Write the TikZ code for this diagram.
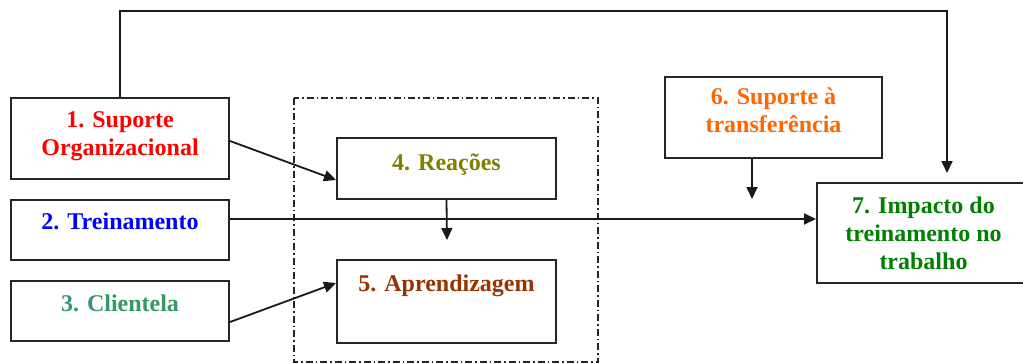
\documentclass[tikz,border=0pt]{standalone}
\usepackage{fontspec}
\setmainfont{LiberationSerif}[Extension=.ttf, UprightFont=*-Regular, BoldFont=*-Bold]
\usetikzlibrary{arrows.meta}
\definecolor{cRed}{HTML}{FF0000}
\definecolor{cBlue}{HTML}{0000FF}
\definecolor{cSea}{HTML}{339966}
\definecolor{cOlive}{HTML}{808000}
\definecolor{cBrown}{HTML}{993300}
\definecolor{cOrange}{HTML}{FF6600}
\definecolor{cGreen}{HTML}{008000}
\begin{document}
\begin{tikzpicture}[x=1pt,y=-1pt,
  box/.style={draw=black!85, line width=2pt, rectangle, inner sep=0pt, fill=white},
  lbl/.style={font=\bfseries\fontsize{24}{28}\selectfont, align=center, inner sep=0pt, anchor=north},
  conn/.style={line width=1.8pt, draw=black!90},
  arr/.style={conn, -{Triangle[length=12pt,width=11pt]}},
  frame/.style={line width=1.4pt, draw=black!85, dash pattern=on 7pt off 3pt on 1.5pt off 3pt}]
\clip (0,0) rectangle (1023,364);
\fill[white] (0,0) rectangle (1023,364);

% dashed grouping frame around reactions and learning
\draw[frame] (294,98) rectangle (598,362);

% boxes
\node[box, minimum width=218pt, minimum height=81pt] (b1) at (120,138.5) {};
\node[box, minimum width=218pt, minimum height=60pt] (b2) at (120,230) {};
\node[box, minimum width=218pt, minimum height=60pt] (b3) at (120,311) {};
\node[box, minimum width=219pt, minimum height=61pt] (b4) at (446.5,168.5) {};
\node[box, minimum width=219pt, minimum height=83pt] (b5) at (446.5,301.5) {};
\node[box, minimum width=217pt, minimum height=81pt] (b6) at (773.5,117.5) {};
\node[box, minimum width=213pt, minimum height=100pt] (b7) at (923.5,233) {};

% box texts
\node[lbl, text=cRed] (t1) at ([yshift=-14pt]b1.north) {1. Suporte\\Organizacional};
\node[lbl, text=cBlue] (t2) at ([yshift=-14pt]b2.north) {2. Treinamento};
\node[lbl, text=cSea] (t3) at ([yshift=-15pt]b3.north) {3. Clientela};
\node[lbl, text=cOlive] (t4) at ([yshift=-17pt]b4.north) {4. Reações};
\node[lbl, text=cBrown] (t5) at ([yshift=-16pt]b5.north) {5. Aprendizagem};
\node[lbl, text=cOrange] (t6) at ([yshift=-12pt]b6.north) {6. Suporte à\\transferência};
\node[lbl, text=cGreen] (t7) at ([yshift=-15pt]b7.north) {7. Impacto do\\treinamento no\\trabalho};

% free ends of connectors
\coordinate (topL) at (b1.north |- 0,11);
\coordinate (topR) at (947,11);
\coordinate (tipTop) at (947,173);
\coordinate (tipR) at (447,240);
\coordinate (src6) at (752,158);
\coordinate (tip6) at (752,199);

% connectors
\draw[arr] (b1.north) -- (topL) -- (topR) -- (tipTop);
\draw[arr] ([yshift=-2.5pt]b1.east) -- ([yshift=-11.5pt]b4.west);
\draw[arr] ([yshift=11pt]b2.east) -- ([yshift=11pt]b2.east -| b7.west);
\draw[arr] (b4.south) -- (tipR);
\draw[arr] (src6) -- (tip6);
\draw[arr] ([yshift=-11pt]b3.east) -- ([yshift=18.5pt]b5.west);
\end{tikzpicture}
\end{document}
